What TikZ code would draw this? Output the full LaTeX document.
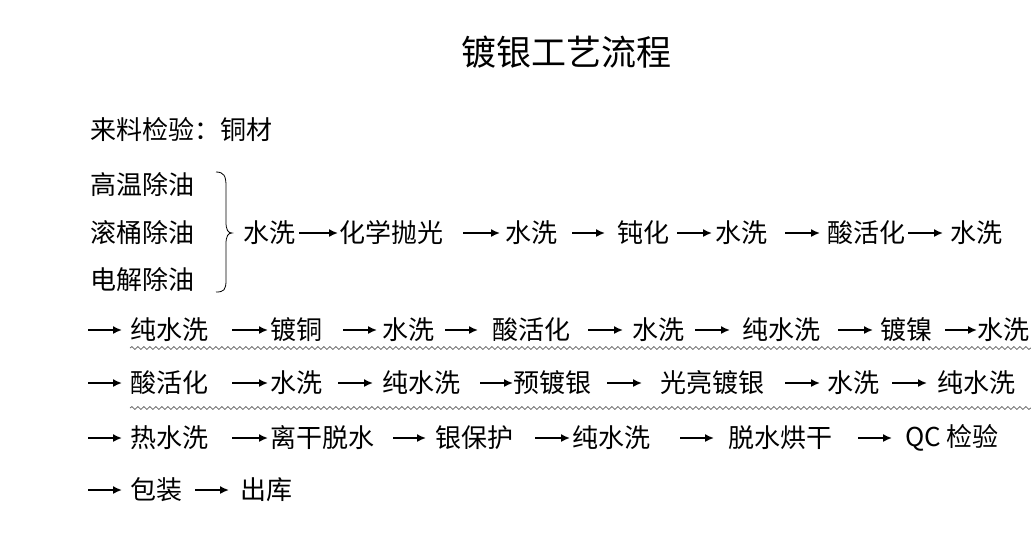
\documentclass[tikz,border=0pt]{standalone}
\usepackage{fontspec}
\setmainfont{Noto Sans CJK SC}
\usetikzlibrary{arrows.meta,decorations.pathmorphing}
\begin{document}
\begin{tikzpicture}[x=1pt,y=-1pt,
  t/.style={anchor=west,inner sep=0pt,font=\fontsize{26}{28}\selectfont},
  arr/.style={-{Latex[length=9pt,width=8pt]},line width=1.6pt},
  wav/.style={draw=gray!80!black,line width=0.8pt,decorate,decoration={snake,amplitude=1.4pt,segment length=6pt}}]
\useasboundingbox (0,0) rectangle (1031,547);
\newcommand\ar[3]{\draw[arr] ([xshift=#1]#3.west) -- ([xshift=#2]#3.west);}
\node[inner sep=0pt,font=\fontsize{35}{37}\selectfont] (title) at (566,52) {镀银工艺流程};
\node[t] (in) at (90,130) {来料检验：铜材};
\node[t] (d1) at (90,185) {高温除油};
\node[t] (d2) at (90,233) {滚桶除油};
\node[t] (d3) at (90,280) {电解除油};
\draw[line width=0.8pt] (216,172) .. controls (224,172) and (226,176) .. (226,186) -- (226,222) .. controls (226,230) and (228,233) .. (232,233) .. controls (228,233) and (226,236) .. (226,244) -- (226,280) .. controls (226,290) and (224,292) .. (216,292);
% row 1
\node[t] (a1) at (243,233) {水洗};
\node[t] (a2) at (339,233) {化学抛光};
\node[t] (a3) at (505,233) {水洗};
\node[t] (a4) at (617,233) {钝化};
\node[t] (a5) at (715,233) {水洗};
\node[t] (a6) at (827,233) {酸活化};
\node[t] (a7) at (950,233) {水洗};
\ar{-40pt}{-1pt}{a2}
\ar{-42pt}{-5pt}{a3}
\ar{-45pt}{-12pt}{a4}
\ar{-38pt}{-3pt}{a5}
\ar{-42pt}{-7pt}{a6}
\ar{-42pt}{-7pt}{a7}
% row 2
\node[t] (b1) at (130,330) {纯水洗};
\node[t] (b2) at (270,330) {镀铜};
\node[t] (b3) at (382,330) {水洗};
\node[t] (b4) at (492,330) {酸活化};
\node[t] (b5) at (632,330) {水洗};
\node[t] (b6) at (742,330) {纯水洗};
\node[t] (b7) at (880,330) {镀镍};
\node[t] (b8) at (977,330) {水洗};
\ar{-42pt}{-8pt}{b1}
\ar{-38pt}{-2pt}{b2}
\ar{-39pt}{-5pt}{b3}
\ar{-47pt}{-14pt}{b4}
\ar{-44pt}{-9pt}{b5}
\ar{-47pt}{-12pt}{b6}
\ar{-42pt}{-7pt}{b7}
\ar{-32pt}{0pt}{b8}
\draw[wav] (130,348) -- (1031,348);
% row 3
\node[t] (c1) at (130,383) {酸活化};
\node[t] (c2) at (270,383) {水洗};
\node[t] (c3) at (382,383) {纯水洗};
\node[t] (c4) at (513,383) {预镀银};
\node[t] (c5) at (660,383) {光亮镀银};
\node[t] (c6) at (827,383) {水洗};
\node[t] (c7) at (937,383) {纯水洗};
\ar{-42pt}{-8pt}{c1}
\ar{-38pt}{-2pt}{c2}
\ar{-44pt}{-9pt}{c3}
\ar{-33pt}{0pt}{c4}
\ar{-53pt}{-18pt}{c5}
\ar{-42pt}{-7pt}{c6}
\ar{-45pt}{-10pt}{c7}
\draw[wav] (130,408) -- (1031,408);
% row 4
\node[t] (e1) at (130,438) {热水洗};
\node[t] (e2) at (270,438) {离干脱水};
\node[t] (e3) at (435,438) {银保护};
\node[t] (e4) at (572,438) {纯水洗};
\node[t] (e5) at (728,438) {脱水烘干};
\node[t] (e6) at (905,438) {QC 检验};
\ar{-42pt}{-8pt}{e1}
\ar{-38pt}{-2pt}{e2}
\ar{-42pt}{-9pt}{e3}
\ar{-37pt}{-2pt}{e4}
\ar{-48pt}{-14pt}{e5}
\ar{-47pt}{-13pt}{e6}
% row 5
\node[t] (f1) at (130,490) {包装};
\node[t] (f2) at (240,490) {出库};
\ar{-42pt}{-8pt}{f1}
\ar{-45pt}{-11pt}{f2}
\end{tikzpicture}
\end{document}
